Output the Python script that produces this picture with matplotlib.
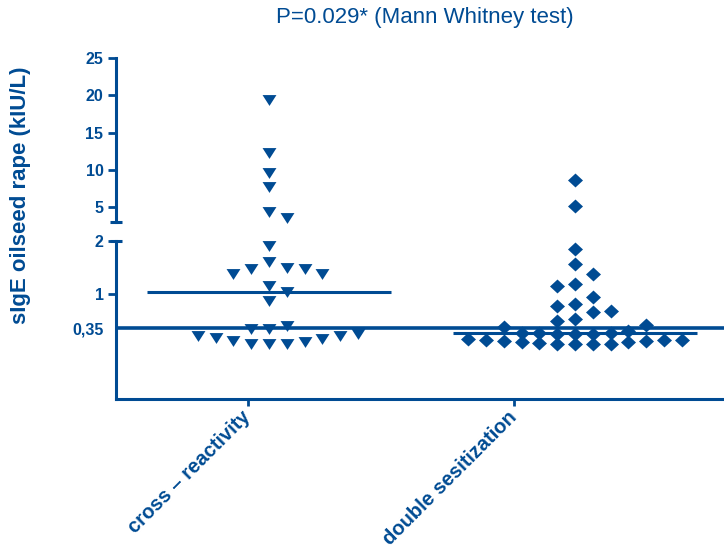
import numpy as np
import matplotlib.pyplot as plt

plt.rcParams['font.family'] = ['Liberation Sans', 'DejaVu Sans']

BLUE = '#004B93'

# ----------------- DATA -----------------
groups = ['cross – reactivity', 'double sesitization']

cross = [19.4, 12.3, 9.6, 7.7, 4.4, 3.5, 1.9, 1.6, 1.49, 1.47, 1.47, 1.38, 1.38,
         1.15, 1.04, 0.87, 0.40, 0.34, 0.34,
         0.24, 0.21, 0.20, 0.17, 0.15, 0.11, 0.09, 0.06, 0.06, 0.06]
double = [8.65, 5.2, 1.85, 1.57, 1.38, 1.19, 1.15, 0.94, 0.81, 0.77, 0.68, 0.66,
          0.53, 0.49, 0.42, 0.38, 0.31, 0.27, 0.26, 0.26, 0.25, 0.25, 0.25,
          0.15, 0.14, 0.14, 0.13, 0.12, 0.11, 0.10, 0.09, 0.07, 0.06, 0.05, 0.05, 0.05]

low_ticks = [0.35, 1, 2]
low_labels = ['0,35', '1', '2']
up_ticks = [5, 10, 15, 20, 25]
cutoff = 0.35
title = 'P=0.029* (Mann Whitney test)'
ylabel = 'sIgE oilseed rape (kIU/L)'

# ----------------- LAYOUT -----------------
fig = plt.figure(figsize=(7.24, 5.52), dpi=100)
W, H = 724, 552
ax_low = fig.add_axes([116 / W, (H - 399) / H, 608 / W, 158 / H])
ax_up = fig.add_axes([116 / W, (H - 222) / H, 608 / W, 164 / H], sharex=ax_low)

xlim = (-0.496, 1.789)
centers = [0.079, 1.229]
half_w = 0.457
ax_low.set_xlim(*xlim)
ax_low.set_ylim(-0.981, 2)
ax_up.set_ylim(3, 25)


def axis_for(v):
    return ax_up if v >= 2.5 else ax_low


def px_of(v):
    return axis_for(v).transData.transform((0, v))[1]


def slot(k, sign=1):
    # 0, +1, -1, +2, -2, ...
    return sign * ((k + 1) // 2) * (1 if k % 2 == 1 else -1)


def scatter_offsets(values, split=0.45, row_h=10.0, gap=14.0, step_px=17.8):
    vals = np.asarray(values)
    px_per_unit = ax_low.transData.transform((1, 0))[0] - ax_low.transData.transform((0, 0))[0]
    step = step_px / px_per_unit
    offs = np.zeros(len(vals))

    # low dense part: rows of points spread sideways
    low = [i for i in np.argsort(vals, kind='stable') if vals[i] < split]
    i, row = 0, 0
    while i < len(low):
        start = px_of(vals[low[i]])
        j = i
        while j < len(low) and px_of(vals[low[j]]) - start < row_h:
            j += 1
        for k, idx in enumerate(low[i:j]):
            offs[idx] = slot(k, 1 if row % 2 == 0 else -1) * step
        i, row = j, row + 1

    # upper part: greedy swarm from the top down
    high = [i for i in np.argsort(-vals, kind='stable') if vals[i] >= split]
    placed = []
    for idx in high:
        py = px_of(vals[idx])
        k = 0
        while any(s == slot(k) and abs(py - p) < gap for s, p in placed):
            k += 1
        placed.append((slot(k), py))
        offs[idx] = slot(k) * step
    return offs


tri = [(-1, 0.78), (1, 0.78), (0, -0.78)]
dia = [(0, 0.93), (1, 0), (0, -0.93), (-1, 0)]
markers = [(tri, 10.0), (dia, 10.8)]

for vals, c, (mk, ms) in zip([cross, double], centers, markers):
    vals = np.asarray(vals)
    xs = c + scatter_offsets(vals)
    up = vals >= 2.5
    for ax, m in [(ax_low, ~up), (ax_up, up)]:
        ax.plot(xs[m], vals[m], linestyle='none', marker=mk, markersize=ms,
                color=BLUE, markeredgewidth=0, clip_on=False, zorder=3)
    ax_low.hlines(np.median(vals), c - half_w, c + half_w, color=BLUE, lw=2.2, zorder=4)

ax_low.axhline(cutoff, color=BLUE, lw=2.6, zorder=4)

# ----------------- AXES STYLE -----------------
for ax in (ax_low, ax_up):
    for s in ['top', 'right']:
        ax.spines[s].set_visible(False)
    for s in ['left', 'bottom']:
        ax.spines[s].set_color(BLUE)
        ax.spines[s].set_linewidth(2.2)
    ax.tick_params(colors=BLUE, width=2.0, length=6, labelsize=11.5, pad=3)
    ax.patch.set_visible(False)

ax_up.spines['bottom'].set_visible(False)
ax_up.tick_params(axis='x', bottom=False, labelbottom=False)

ax_low.set_yticks(low_ticks)
ax_low.set_yticklabels(low_labels)
ax_low.yaxis.get_major_ticks()[0].tick1line.set_visible(False)
ax_up.set_yticks(up_ticks)

for lab in ax_low.get_yticklabels() + ax_up.get_yticklabels():
    lab.set_fontweight('bold')

ax_low.set_xticks([0, 1])
ax_low.set_xticklabels(groups, rotation=45, ha='right', va='center',
                       rotation_mode='anchor', fontweight='bold', fontsize=14.5)
ax_low.tick_params(axis='x', length=5, pad=6)

# break caps on the y axis
ax_up.plot([0], [0], marker='_', markersize=9, mew=2.2, color=BLUE,
           transform=ax_up.transAxes, clip_on=False)
ax_low.plot([0], [1], marker='_', markersize=9, mew=2.2, color=BLUE,
            transform=ax_low.transAxes, clip_on=False)

fig.text(425 / W, 1 - 17 / H, title, ha='center', va='center', fontsize=16, color=BLUE)
fig.text(21 / W, 1 - 195 / H, ylabel, ha='center', va='center', rotation=90,
         fontsize=16, fontweight='bold', color=BLUE)

fig.savefig('out.png', dpi=100)
